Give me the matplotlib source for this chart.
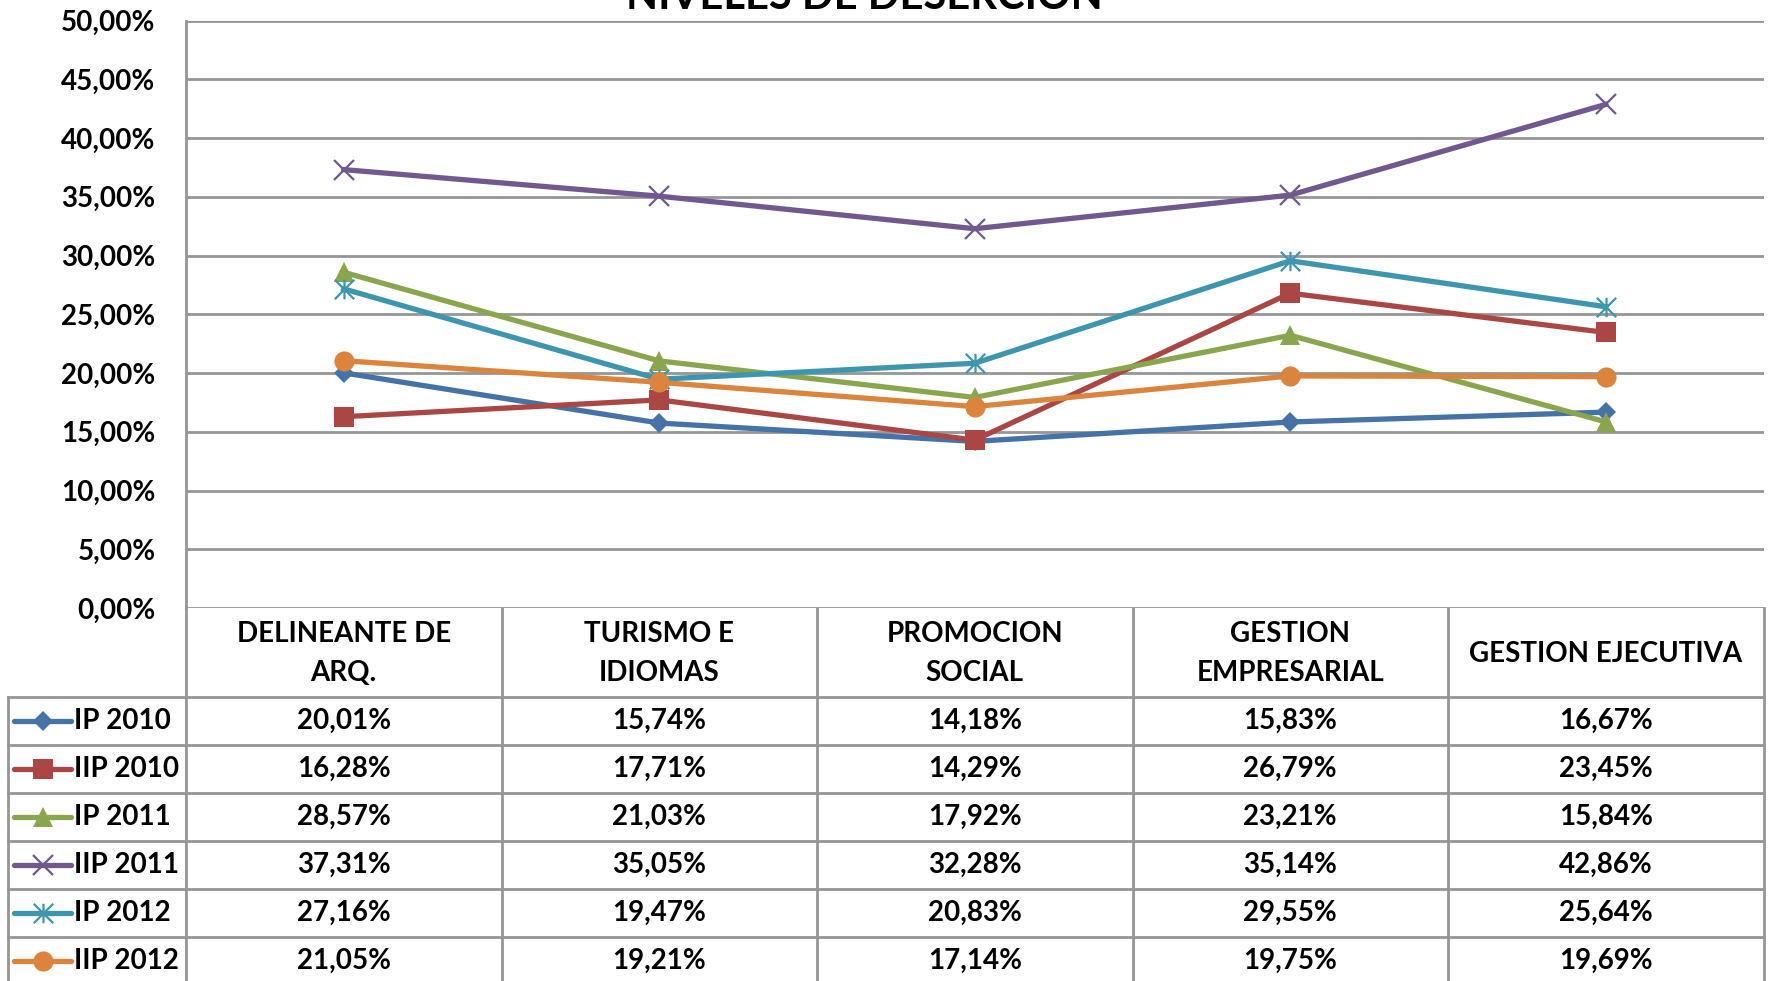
import numpy as np
import matplotlib.pyplot as plt
from matplotlib.path import Path
from matplotlib.ticker import FuncFormatter, MultipleLocator

plt.rcParams['font.family'] = ['Lato', 'DejaVu Sans']
plt.rcParams['font.weight'] = 'bold'

# data
categories = ['DELINEANTE DE\nARQ.', 'TURISMO E\nIDIOMAS', 'PROMOCION\nSOCIAL',
              'GESTION\nEMPRESARIAL', 'GESTION EJECUTIVA']
series_names = ['IP 2010', 'IIP 2010', 'IP 2011', 'IIP 2011', 'IP 2012', 'IIP 2012']
ip_2010 = [20.01, 15.74, 14.18, 15.83, 16.67]
iip_2010 = [16.28, 17.71, 14.29, 26.79, 23.45]
ip_2011 = [28.57, 21.03, 17.92, 23.21, 15.84]
iip_2011 = [37.31, 35.05, 32.28, 35.14, 42.86]
ip_2012 = [27.16, 19.47, 20.83, 29.55, 25.64]
iip_2012 = [21.05, 19.21, 17.14, 19.75, 19.69]
series_values = [ip_2010, iip_2010, ip_2011, iip_2011, ip_2012, iip_2012]

colors = ['#4572A7', '#AA4643', '#89A54E', '#71588F', '#3D96AE', '#DB843D']

# excel style asterisk: X plus a vertical bar
asterisk = Path([(0, -1), (0, 1), (-1, -1), (1, 1), (-1, 1), (1, -1)],
                [Path.MOVETO, Path.LINETO] * 3)
markers = [('D', 10, 0), ('s', 14, 0), ('^', 14, 0), ('x', 14, 1.6),
           (asterisk, 14, 1.6), ('o', 14.5, 0)]

W, H = 1769, 981
DPI = 100
grid_col = '#969696'
fs = 20

fig = plt.figure(figsize=(W / DPI, H / DPI), dpi=DPI)
left, right, top, zero = 186, 1763.5, 20.5, 608
ax = fig.add_axes([left / W, (H - zero) / H, (right - left) / W, (zero - top) / H])

x = np.arange(len(categories))
for vals, col, (m, ms, mew) in zip(series_values, colors, markers):
    ax.plot(x, vals, color=col, lw=3.8, marker=m, ms=ms, mew=mew,
            mec=col, mfc=col, solid_joinstyle='round', clip_on=False, zorder=3)

ax.set_xlim(-0.5, len(categories) - 0.5)
ax.set_ylim(0, 50)
ax.yaxis.set_major_locator(MultipleLocator(5))
ax.yaxis.set_major_formatter(FuncFormatter(lambda v, p: f'{v:.2f}'.replace('.', ',') + '%'))
ax.grid(axis='y', color=grid_col, lw=2)
ax.set_axisbelow(True)
ax.set_xticks([])
ax.tick_params(axis='y', length=0, pad=22, labelsize=fs)
for s in ['top', 'right', 'bottom']:
    ax.spines[s].set_visible(False)
ax.spines['left'].set_color(grid_col)
ax.spines['left'].set_linewidth(2)

fig.text(864.5 / W, 1 + 3 / H, 'NIVELES DE DESERCION', ha='center', va='center',
         fontsize=30, fontweight='bold')

# data table under the plot, drawn in pixel space
tab = fig.add_axes([0, 0, 1, 1], zorder=-1)
tab.set_xlim(0, W)
tab.set_ylim(H, 0)
tab.axis('off')

fig.canvas.draw()
to_pix = lambda xv: ax.transData.transform((xv, 0))[0]
col_edges = [to_pix(i - 0.5) for i in range(len(categories) + 1)]
col_mid = [to_pix(i) for i in range(len(categories))]
leg_left = 8
header_bottom = 697
row_h = 48
n_rows = len(series_names)
row_edges = [header_bottom + i * row_h for i in range(n_rows + 1)]

for xe in col_edges:
    tab.plot([xe, xe], [zero, H + 10], color=grid_col, lw=2, clip_on=False)
tab.plot([leg_left, leg_left], [header_bottom, H + 10], color=grid_col, lw=2, clip_on=False)
for ye in row_edges:
    tab.plot([leg_left, col_edges[-1]], [ye, ye], color=grid_col, lw=2)

for c, label in zip(col_mid, categories):
    tab.text(c, (zero + header_bottom) / 2 + 1, label, ha='center', va='center',
             fontsize=fs, fontweight='bold', linespacing=1.6)

for r, (name, vals, col, (m, ms, mew)) in enumerate(zip(series_names, series_values, colors, markers)):
    yc = row_edges[r] + row_h / 2
    tab.plot([14, 71], [yc, yc], color=col, lw=3.8, solid_capstyle='round')
    tab.plot([42.5], [yc], marker=m, ms=ms, mew=mew, mec=col, mfc=col, color=col)
    tab.text(74, yc, name, ha='left', va='center', fontsize=fs, fontweight='bold')
    for c, v in zip(col_mid, vals):
        tab.text(c, yc, f'{v:.2f}'.replace('.', ',') + '%', ha='center', va='center',
                 fontsize=fs, fontweight='bold')

fig.savefig('out.png', dpi=DPI)
